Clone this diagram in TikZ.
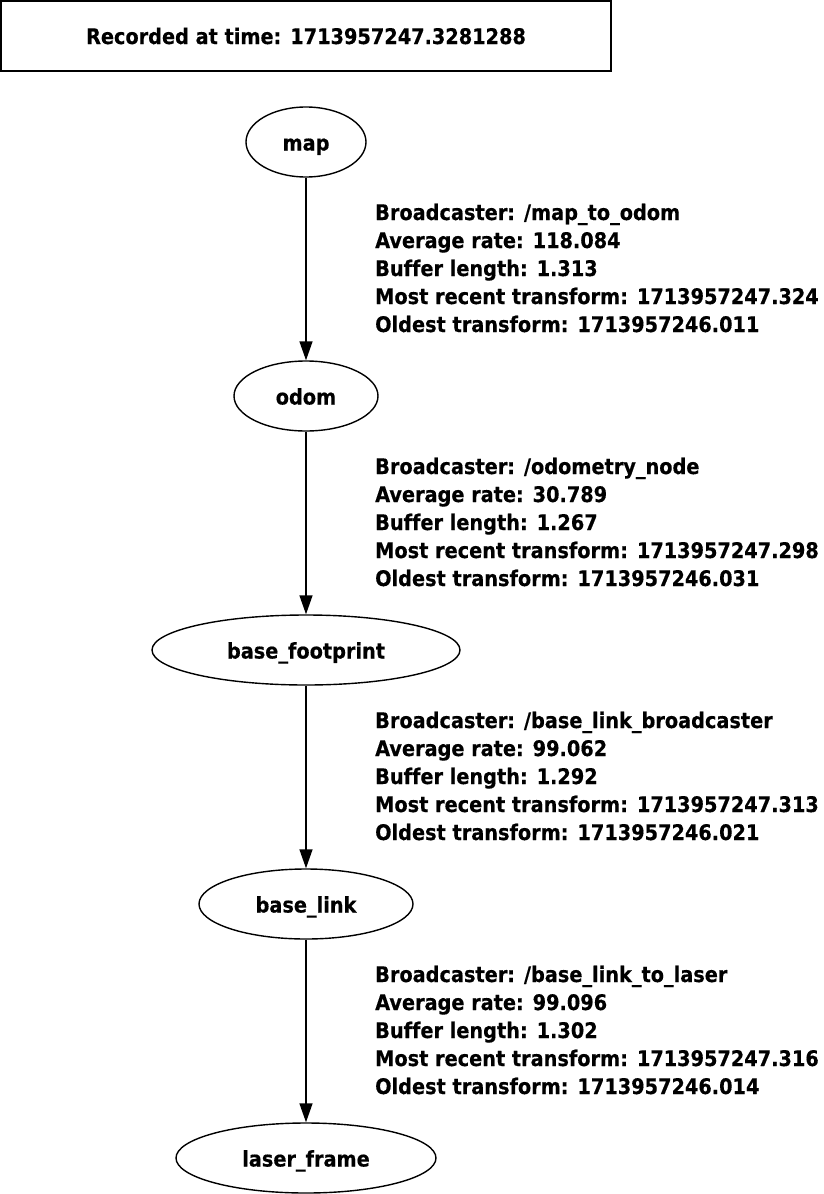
\documentclass[tikz,border=0pt]{standalone}
\usepackage{fontspec}
\IfFontExistsTF{DejaVu Sans Condensed}
  {\setmainfont{DejaVu Sans Condensed}[Ligatures=NoCommon, BoldFeatures={FakeBold=0.4}]}
  {\setmainfont{DejaVu Sans}[Ligatures=NoCommon, FakeStretch=0.9]}
\usetikzlibrary{shapes.geometric,arrows.meta}
\begin{document}
\begin{tikzpicture}[x=1pt,y=-1pt,
  every node/.style={font=\fontsize{21.45}{28}\selectfont\bfseries, inner sep=0pt},
  frame/.style={draw, line width=1.4pt, ellipse, minimum height=70pt, text height=17pt, text depth=0pt},
  tfedge/.style={draw, line width=1.4pt, -{Triangle[length=19pt,width=13pt]}},
  info/.style={anchor=base west}
]
\useasboundingbox (0,0) rectangle (823,1194);
\node[draw, line width=1.4pt, minimum width=610pt, minimum height=70pt, text height=16pt, text depth=0pt] (title) at (306,36) {Recorded at time: 1713957247.3281288};

\node[frame, minimum width=120pt] (map) at (306,142) {map};
\node[frame, minimum width=144pt] (odom) at (306,396) {odom};
\node[frame, minimum width=308pt] (bf) at (306,650) {base\_footprint};
\node[frame, minimum width=214pt] (bl) at (306,904) {base\_link};
\node[frame, minimum width=260pt] (lf) at (306,1158) {laser\_frame};

\draw[tfedge] (map) -- (odom);
\draw[tfedge] (odom) -- (bf);
\draw[tfedge] (bf) -- (bl);
\draw[tfedge] (bl) -- (lf);

\node[info] (a1) at (375,220) {Broadcaster: /map\_to\_odom};
\node[info] (a2) at (375,248) {Average rate: 118.084};
\node[info] (a3) at (375,276) {Buffer length: 1.313};
\node[info] (a4) at (375,304) {Most recent transform: 1713957247.324};
\node[info] (a5) at (375,332) {Oldest transform: 1713957246.011};

\node[info] (b1) at (375,474) {Broadcaster: /odometry\_node};
\node[info] (b2) at (375,502) {Average rate: 30.789};
\node[info] (b3) at (375,530) {Buffer length: 1.267};
\node[info] (b4) at (375,558) {Most recent transform: 1713957247.298};
\node[info] (b5) at (375,586) {Oldest transform: 1713957246.031};

\node[info] (c1) at (375,728) {Broadcaster: /base\_link\_broadcaster};
\node[info] (c2) at (375,756) {Average rate: 99.062};
\node[info] (c3) at (375,784) {Buffer length: 1.292};
\node[info] (c4) at (375,812) {Most recent transform: 1713957247.313};
\node[info] (c5) at (375,840) {Oldest transform: 1713957246.021};

\node[info] (d1) at (375,982) {Broadcaster: /base\_link\_to\_laser};
\node[info] (d2) at (375,1010) {Average rate: 99.096};
\node[info] (d3) at (375,1038) {Buffer length: 1.302};
\node[info] (d4) at (375,1066) {Most recent transform: 1713957247.316};
\node[info] (d5) at (375,1094) {Oldest transform: 1713957246.014};
\end{tikzpicture}
\end{document}
